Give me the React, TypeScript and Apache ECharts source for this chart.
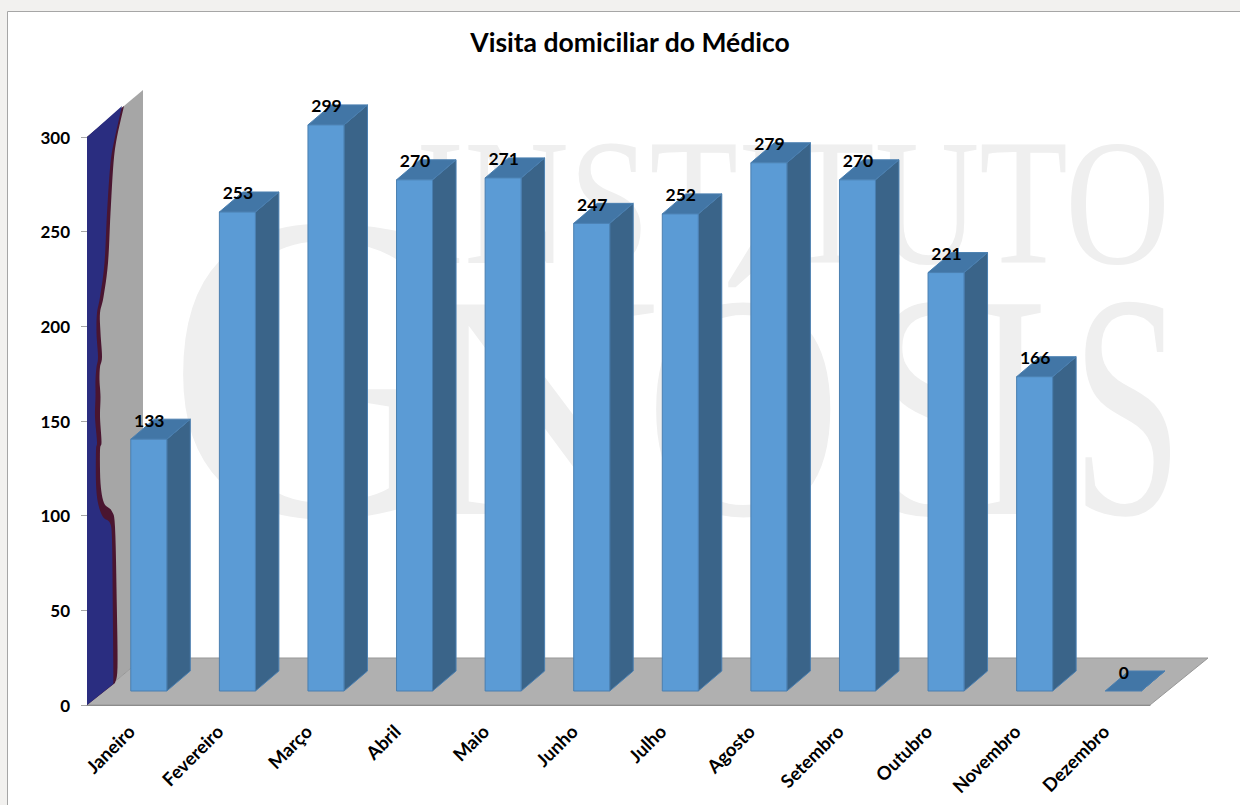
import React, { useEffect, useRef } from "react";
import * as echarts from "echarts";

const titleText = "Visita domiciliar do Médico";
const categories = ["Janeiro", "Fevereiro", "Março", "Abril", "Maio", "Junho", "Julho", "Agosto", "Setembro", "Outubro", "Novembro", "Dezembro"];
const visits = [133, 253, 299, 270, 271, 247, 252, 279, 270, 221, 166, 0];
const yTicks = { min: 0, max: 300, interval: 50 };

const FONT = "Lato";
const FRONT = "#5b9bd5";
const FRONT_EDGE = "#4a7fb0";
const SIDE = "#3a6489";
const TOP = "#4276a6";
const WALL = "#a6a6a6";
const FLOOR = "#b0b0b0";
const WATERMARK = "#efefef";

// projection of the 3-D box
const BAR_W = 36;
const BAR_SHIFT_X = 17.5;
const BAR_SHIFT_Y = -14;
const BAR_DX = 23.5;
const BAR_DY = -20;
const ROOM_DX = 56;
const ROOM_DY = -47;

// picture fill on the side wall
const ribbonOuter = [[124,106],[117,137],[113.5,163],[110.5,213],[108,263],[103.5,297],[100,313],[100.5,333],[102,357],[100,367],[99.5,380],[100.5,397],[100,417],[101.5,442],[100,450],[100.5,483],[104,503],[111.7,511],[115,527],[116.7,600],[117.5,667],[115,683]];
const ribbonInner = [[122,106],[115,137],[110.5,163],[107,213],[104.5,263],[100,297],[97,313],[96.5,333],[98,357],[96.5,367],[95.5,380],[95.5,397],[95,417],[97,442],[96,450],[96,483],[98,503],[103,517],[110,523],[112,540],[112.7,600],[113.3,667],[113.3,684]];

// decoration only: rounds the hand-traced edge of the wall picture
function rounded(pts: number[][]) {
  const out: number[][] = [];
  for (let i = 0; i < pts.length - 1; i++) {
    const p0 = pts[Math.max(i - 1, 0)];
    const p1 = pts[i];
    const p2 = pts[i + 1];
    const p3 = pts[Math.min(i + 2, pts.length - 1)];
    for (let k = 0; k < 6; k++) {
      const t = k / 6;
      const f = (a: number, b: number, c: number, d: number) =>
        0.5 * (2 * b + (c - a) * t + (2 * a - 5 * b + 4 * c - d) * t * t + (3 * b - a - 3 * c + d) * t * t * t);
      out.push([f(p0[0], p1[0], p2[0], p3[0]), f(p0[1], p1[1], p2[1], p3[1])]);
    }
  }
  out.push(pts[pts.length - 1]);
  return out;
}

const watermarkLetters = [
  { t: "INSTITUTO", x: 416, y: 202, size: 180, sx: 0.805 },
  { t: "G", x: 166, y: 367, size: 440, sx: 0.95 },
  { t: "N", x: 412, y: 406, size: 320, sx: 1.08 },
  { t: "Ó", x: 645, y: 406, size: 320, sx: 0.85 },
  { t: "S", x: 868, y: 406, size: 320, sx: 0.72 },
  { t: "I", x: 972, y: 406, size: 320, sx: 0.72 },
  { t: "S", x: 1072, y: 406, size: 320, sx: 0.62 },
];

function renderRoom(params: any, api: any) {
  const cs = params.coordSys;
  const [, y0] = api.coord([0, yTicks.min]);
  const [, yTop] = api.coord([0, yTicks.max]);
  const x0 = cs.x;
  const x1 = cs.x + cs.width;
  return {
    type: "group",
    children: [
      { type: "polygon", shape: { points: [[x0, yTop], [x0 + ROOM_DX, yTop + ROOM_DY], [x0 + ROOM_DX, y0 + ROOM_DY], [x0, y0]] }, style: { fill: WALL } },
      { type: "polygon", shape: { points: [[x0, y0], [x1, y0], [x1 + ROOM_DX + 2, y0 + ROOM_DY], [x0 + ROOM_DX, y0 + ROOM_DY]] }, style: { fill: FLOOR, stroke: "#979797", lineWidth: 1 } },
      { type: "polygon", shape: { points: [[x0, yTop], ...rounded(ribbonOuter), [x0, y0]] }, style: { fill: "#4a1530" } },
      { type: "polygon", shape: { points: [[x0, yTop], ...rounded(ribbonInner), [x0, y0]] }, style: { fill: "#2a2d80" } },
    ],
  };
}

function renderBar(_params: any, api: any) {
  const idx = api.value(0);
  const val = api.value(1);
  const [cx, yv] = api.coord([idx, val]);
  const [, yb] = api.coord([idx, 0]);
  const l = cx + BAR_SHIFT_X - BAR_W / 2;
  const r = l + BAR_W;
  const t = yv + BAR_SHIFT_Y;
  const b = yb + BAR_SHIFT_Y;
  const edge = { stroke: FRONT_EDGE, lineWidth: 1 };
  const children: any[] = [
    { type: "polygon", shape: { points: [[r, t], [r + BAR_DX, t + BAR_DY], [r + BAR_DX, b + BAR_DY], [r, b]] }, style: { fill: SIDE, ...edge } },
    { type: "polygon", shape: { points: [[l, t], [l + BAR_DX, t + BAR_DY], [r + BAR_DX, t + BAR_DY], [r, t]] }, style: { fill: TOP, ...edge } },
  ];
  if (val > 0) {
    children.push({ type: "rect", shape: { x: l, y: t, width: BAR_W, height: b - t }, style: { fill: FRONT, ...edge } });
  }
  children.push({
    type: "text",
    x: (l + r) / 2 + 0.5,
    y: t - 19,
    z2: 10,
    style: { text: String(val), fill: "#000", font: `bold 17.5px ${FONT}`, textAlign: "center", textVerticalAlign: "middle" },
  });
  return { type: "group", children };
}

export default function App() {
  const ref = useRef<HTMLDivElement>(null);
  useEffect(() => {
    document.body.style.margin = "0";
    const chart = echarts.init(ref.current!, null, { renderer: "svg" });
    chart.setOption({
      animation: false,
      backgroundColor: "#f2f1ef",
      title: {
        text: titleText,
        left: 625,
        top: 23,
        textAlign: "center",
        textStyle: { fontFamily: FONT, fontWeight: "bold", fontSize: 26.5, color: "#000" },
      },
      graphic: [
        { type: "rect", z: -2, shape: { x: 7.5, y: 11.5, width: 1300, height: 900 }, style: { fill: "#fff", stroke: "#a6a6a6", lineWidth: 1 } },
        ...watermarkLetters.map((w) => ({
          type: "text",
          z: -1,
          x: w.x,
          y: w.y,
          scaleX: w.sx,
          style: { text: w.t, fill: WATERMARK, font: `${w.size}px "Liberation Serif"`, textAlign: "left", textVerticalAlign: "middle" },
        })),
      ],
      grid: { left: 87, top: 137, width: 1063, height: 568 },
      xAxis: {
        type: "category",
        data: categories,
        z: 3,
        axisLine: { lineStyle: { color: "#8c8c8c", width: 1 } },
        axisTick: { show: false },
        axisLabel: { rotate: 45, margin: 23, color: "#000", fontFamily: FONT, fontWeight: "bold", fontSize: 18.5, interval: 0 },
      },
      yAxis: {
        type: "value",
        ...yTicks,
        axisLine: { show: true, lineStyle: { color: "#a6a6a6" } },
        axisTick: { show: true, length: 6, lineStyle: { color: "#a6a6a6" } },
        splitLine: { show: false },
        axisLabel: { margin: 17, color: "#000", fontFamily: FONT, fontWeight: "bold", fontSize: 17 },
      },
      series: [
        { type: "custom", z: 1, silent: true, clip: false, renderItem: renderRoom, data: [[0, 0]], encode: { x: 0, y: 1 } },
        { type: "custom", z: 2, clip: false, renderItem: renderBar, data: visits.map((v, i) => [i, v]), encode: { x: 0, y: 1 } },
      ],
    });
    return () => chart.dispose();
  }, []);
  return <div ref={ref} style={{ width: 1240, height: 805 }} />;
}
